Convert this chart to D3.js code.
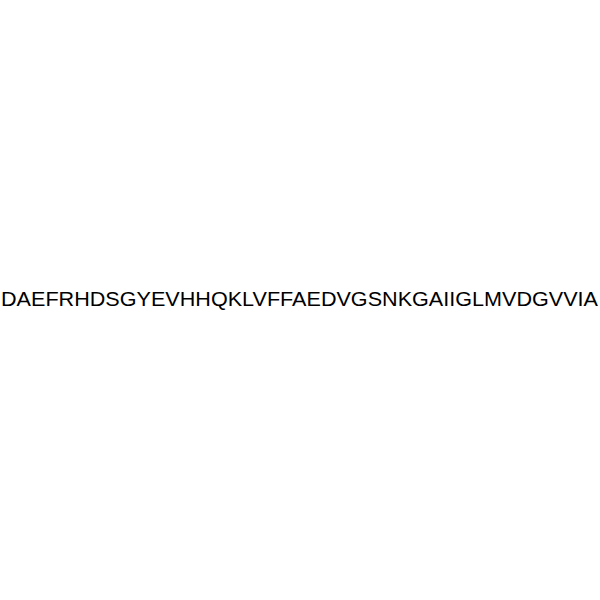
<!DOCTYPE html>
<html>
<head>
<meta charset="utf-8">
<script src="https://cdn.jsdelivr.net/npm/d3@7"></script>
<style>
  html, body { margin: 0; padding: 0; background: #fff; }
</style>
</head>
<body>
<div id="chart"></div>
<script>
// peptide sequence, one letter per residue
const residues = "DAEFRHDSGYEVHHQKLVFFAEDVGSNKGAIIGLMVDGVVIA".split("");

const width = 600, height = 600;
const left = 1, right = 598, baseline = 306;

const svg = d3.select("#chart").append("svg")
    .attr("width", width)
    .attr("height", height);

const label = svg.append("text")
    .attr("x", left)
    .attr("y", baseline)
    .attr("font-family", "Liberation Sans, Arial, sans-serif")
    .attr("font-size", 20)
    .attr("fill", "#000")
    .text(residues.join(""));

// stretch to the measured span if the font comes out a bit off
const w = label.node().getComputedTextLength();
if (Math.abs(w - (right - left)) > 2) {
    label.attr("textLength", right - left).attr("lengthAdjust", "spacingAndGlyphs");
}
</script>
</body>
</html>
